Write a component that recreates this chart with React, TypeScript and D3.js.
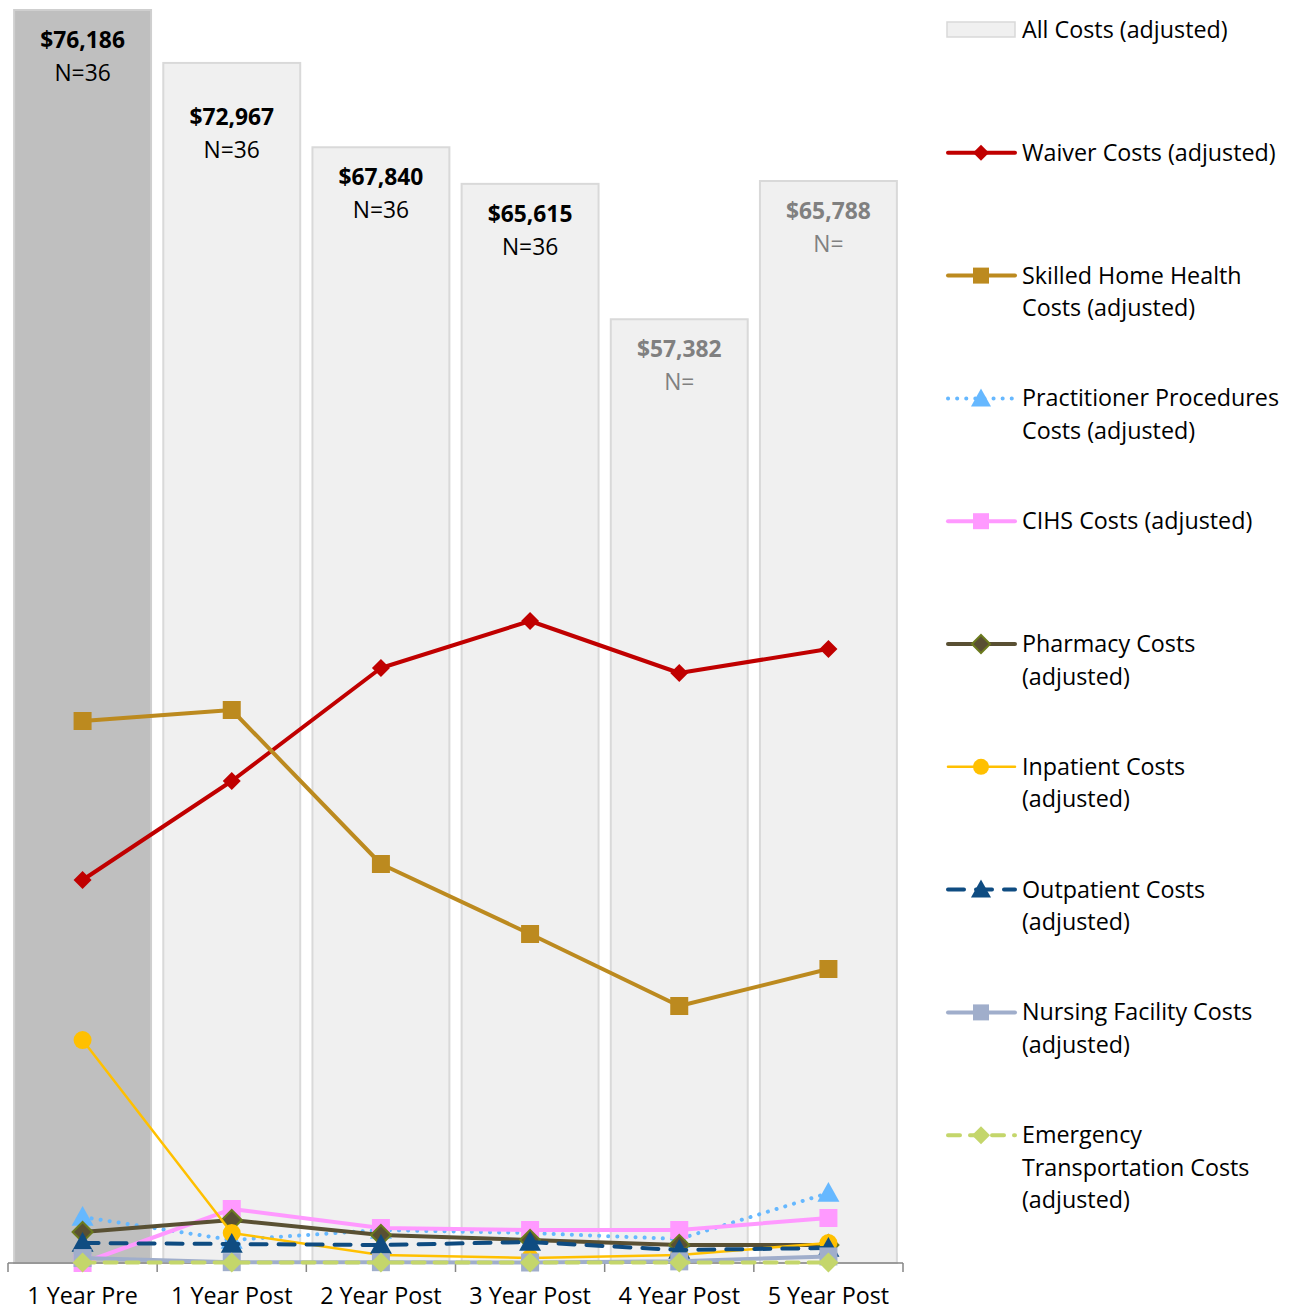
import React from "react";
import * as d3 from "d3";

const categories = ["1 Year Pre", "1 Year Post", "2 Year Post", "3 Year Post", "4 Year Post", "5 Year Post"];
const allCosts = [76186, 72967, 67840, 65615, 57382, 65788];
const nLabels = ["N=36", "N=36", "N=36", "N=36", "N=", "N="];
const labelMuted = [false, false, false, false, true, true];

const waiver = [23287, 29306, 36177, 39035, 35873, 37332];
const skilledHome = [32955, 33624, 24260, 20004, 15626, 17876];
const practitioner = [2797, 1398, 2006, 1824, 1459, 4256];
const cihs = [0, 3283, 2128, 2006, 2006, 2736];
const pharmacy = [1885, 2614, 1702, 1400, 1100, 1094];
const inpatient = [13558, 1824, 486, 304, 486, 1216];
const outpatient = [1216, 1155, 1094, 1277, 790, 912];
const nursing = [300, 50, 50, 30, 100, 400];
const emergency = [30, 30, 30, 30, 30, 30];

type Marker = "diamond" | "square" | "triangle" | "circle";
interface Series {
  name: string[];
  values: number[];
  color: string;
  width: number;
  dash?: string;
  cap?: string;
  marker: Marker;
  mSize: number;
  mFill: string;
  mStroke?: string;
}

const series: Series[] = [
  { name: ["Waiver Costs (adjusted)"], values: waiver, color: "#C00000", width: 4, marker: "diamond", mSize: 9, mFill: "#C00000" },
  { name: ["Skilled Home Health", "Costs (adjusted)"], values: skilledHome, color: "#BC8A1F", width: 4, marker: "square", mSize: 9, mFill: "#BC8A1F" },
  { name: ["Practitioner Procedures", "Costs (adjusted)"], values: practitioner, color: "#66B8FF", width: 4, dash: "0.1 9", cap: "round", marker: "triangle", mSize: 11, mFill: "#66B8FF" },
  { name: ["CIHS Costs (adjusted)"], values: cihs, color: "#FF99FF", width: 4, marker: "square", mSize: 9, mFill: "#FF99FF" },
  { name: ["Pharmacy Costs", "(adjusted)"], values: pharmacy, color: "#595033", width: 4, marker: "diamond", mSize: 10, mFill: "#595033", mStroke: "#6B7A1E" },
  { name: ["Inpatient Costs", "(adjusted)"], values: inpatient, color: "#FFC000", width: 2.5, marker: "circle", mSize: 9, mFill: "#FFC000" },
  { name: ["Outpatient Costs", "(adjusted)"], values: outpatient, color: "#0F4C81", width: 4, dash: "16 12", cap: "round", marker: "triangle", mSize: 11, mFill: "#0F4C81" },
  { name: ["Nursing Facility Costs", "(adjusted)"], values: nursing, color: "#A0AECB", width: 4, marker: "square", mSize: 9, mFill: "#A0AECB" },
  { name: ["Emergency", "Transportation Costs", "(adjusted)"], values: emergency, color: "#C4D66B", width: 4, dash: "12 10", cap: "round", marker: "diamond", mSize: 10, mFill: "#C4D66B" },
];

const FONT = "'Open Sans', 'Noto Sans', sans-serif";
const FS = 23.3;

function markerPath(m: Marker, s: number): string {
  if (m === "diamond") return `M0,${-s}L${s},0L0,${s}L${-s},0Z`;
  if (m === "square") return `M${-s},${-s}H${s}V${s}H${-s}Z`;
  if (m === "triangle") return `M0,${-s}L${s},${s * 0.8}L${-s},${s * 0.8}Z`;
  return "";
}

function MarkerShape({ s, x, y }: { s: Series; x: number; y: number }) {
  if (s.marker === "circle") {
    return <circle cx={x} cy={y} r={s.mSize} fill={s.mFill} stroke={s.mStroke || "none"} />;
  }
  return (
    <path
      d={markerPath(s.marker, s.mSize)}
      transform={`translate(${x},${y})`}
      fill={s.mFill}
      stroke={s.mStroke || "none"}
      strokeWidth={s.mStroke ? 2 : 0}
    />
  );
}

export default function App() {
  const x = d3.scaleBand<string>().domain(categories).range([8, 903]).paddingInner(0.082).paddingOuter(0.041);
  const y = d3.scaleLinear().domain([0, 76186]).range([1263, 10]);
  const cx = (c: string) => (x(c) as number) + x.bandwidth() / 2;
  const line = d3
    .line<number>()
    .x((_, i) => cx(categories[i]))
    .y((d) => y(d));

  const step = x.step();
  const boundaries = d3.range(categories.length + 1).map((i) => 8 + i * step);

  const legendY0 = 30;
  const legendStep = 122.8;

  return (
    <svg
      width={1296}
      height={1311}
      style={{ position: "absolute", left: 0, top: 0, background: "#fff" }}
      fontFamily={FONT}
    >
      {/* bars */}
      {categories.map((c, i) => {
        const extra = i === 1 ? 24 : 0;
        return (
          <g key={c}>
            <rect
              x={x(c)}
              y={y(allCosts[i])}
              width={x.bandwidth()}
              height={y(0) - y(allCosts[i])}
              fill={i === 0 ? "#BFBFBF" : "#F0F0F0"}
              stroke={i === 0 ? "#CFCFCF" : "#D9D9D9"}
              strokeWidth={2}
            />
            <text
              x={cx(c)}
              y={y(allCosts[i]) + 38 + extra}
              textAnchor="middle"
              fontSize={FS - 0.5}
              fontWeight="bold"
              fill={labelMuted[i] ? "#808080" : "#000"}
            >
              {d3.format("$,")(allCosts[i])}
            </text>
            <text
              x={cx(c)}
              y={y(allCosts[i]) + 71 + extra}
              textAnchor="middle"
              fontSize={FS - 0.5}
              fill={labelMuted[i] ? "#808080" : "#000"}
            >
              {nLabels[i]}
            </text>
          </g>
        );
      })}

      {/* axis */}
      <line x1={8} x2={903} y1={1263} y2={1263} stroke="#868686" strokeWidth={1.5} />
      {boundaries.map((b, i) => (
        <line key={i} x1={b} x2={b} y1={1263} y2={1272} stroke="#868686" strokeWidth={1.5} />
      ))}
      {categories.map((c) => (
        <text key={c} x={cx(c)} y={1304} textAnchor="middle" fontSize={FS} fill="#000">
          {c}
        </text>
      ))}

      {/* lines */}
      {series.map((s, si) => (
        <g key={si}>
          <path
            d={line(s.values) || ""}
            fill="none"
            stroke={s.color}
            strokeWidth={s.width}
            strokeDasharray={s.dash}
            strokeLinecap={(s.cap as any) || "round"}
            strokeLinejoin="round"
          />
          {s.values.map((v, i) => (
            <MarkerShape key={i} s={s} x={cx(categories[i])} y={y(v)} />
          ))}
        </g>
      ))}

      {/* legend */}
      <g>
        <rect x={947} y={22} width={68} height={15} fill="#F0F0F0" stroke="#D9D9D9" strokeWidth={1.5} />
        <text x={1022} y={legendY0 + 8} fontSize={FS} fill="#000">
          All Costs (adjusted)
        </text>
        {series.map((s, si) => {
          const ly = legendY0 + (si + 1) * legendStep;
          return (
            <g key={si}>
              <line
                x1={948}
                x2={1015}
                y1={ly}
                y2={ly}
                stroke={s.color}
                strokeWidth={s.width}
                strokeDasharray={s.dash}
                strokeLinecap={(s.cap as any) || "round"}
              />
              <MarkerShape s={{ ...s, mSize: s.marker === "circle" ? 8 : s.mSize - 1 }} x={981} y={ly} />
              {s.name.map((t, k) => (
                <text key={k} x={1022} y={ly + 8 + k * 32.5} fontSize={FS} fill="#000">
                  {t}
                </text>
              ))}
            </g>
          );
        })}
      </g>
    </svg>
  );
}
